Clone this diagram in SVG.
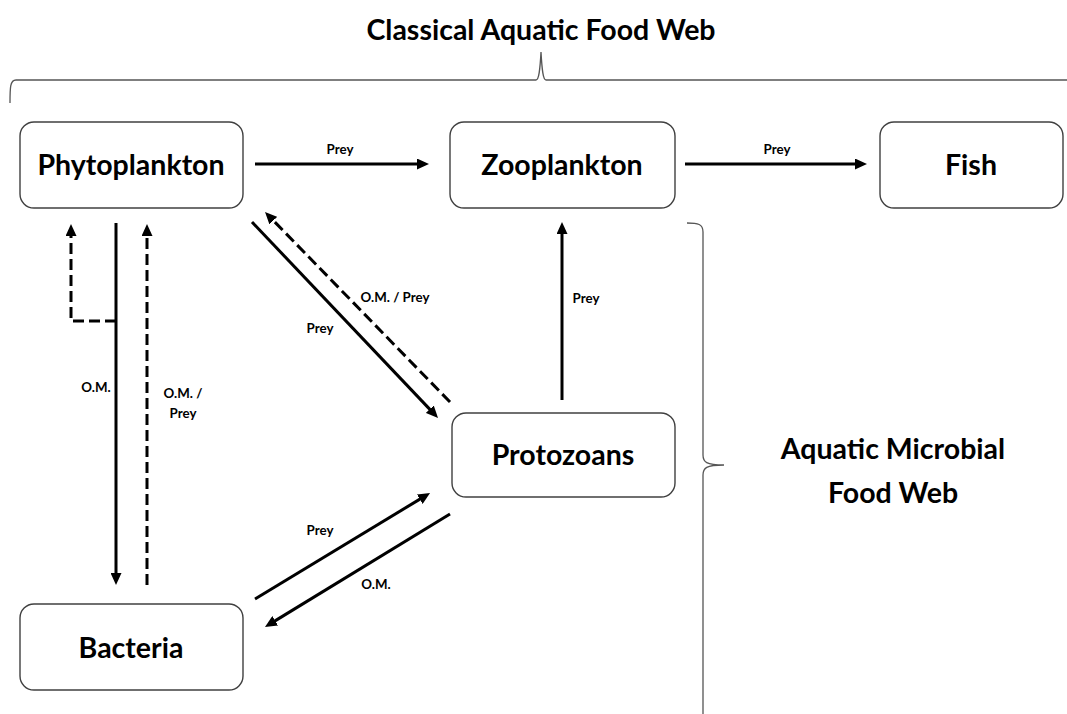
<svg xmlns="http://www.w3.org/2000/svg" width="1067" height="714" viewBox="0 0 1067 714">
<style>
.box{fill:#fff;stroke:#404040;stroke-width:1.4}
.nt{font-family:Lato,"Liberation Sans",sans-serif;font-weight:bold;font-size:28.5px;fill:#000;text-anchor:middle}
.big{font-family:Lato,"Liberation Sans",sans-serif;font-weight:bold;font-size:28.5px;fill:#000;text-anchor:middle}
.lb{font-family:Lato,"Liberation Sans",sans-serif;font-weight:bold;font-size:13.3px;fill:#000;text-anchor:middle}
.s{stroke:#000;stroke-width:3;fill:none;marker-end:url(#ah)}
.d{stroke:#000;stroke-width:3;fill:none;stroke-dasharray:11 5;marker-end:url(#ah)}
.br{stroke:#555;stroke-width:1.3;fill:none}
</style>
<defs>
<marker id="ah" viewBox="0 0 12 11" refX="6" refY="5.5" markerWidth="12" markerHeight="11" markerUnits="userSpaceOnUse" orient="auto">
<path d="M0,0 L12,5.5 L0,11 z" fill="#000"/>
</marker>
</defs>
<rect width="1067" height="714" fill="#fff"/>
<g id="title">
<text class="big" x="541" y="40">Classical Aquatic Food Web</text>
<path class="br" d="M10,103 C10,88 10,80 16,80 L536,80 C539,80 540,70 541,52 C542,70 543,80 546,80 L1067,80"/>
</g>
<g id="microbial">
<path class="br" d="M687,223 C698,223 703,224 703,232 L703,455 C703,462 706,465 724,465 C706,465 703,468 703,475 L703,714"/>
<text class="big" x="893" y="459">Aquatic Microbial</text>
<text class="big" x="893" y="503">Food Web</text>
</g>
<g id="phytoplankton"><rect class="box" x="20" y="122" width="223" height="86" rx="14"/><text class="nt" x="131" y="175">Phytoplankton</text></g>
<g id="zooplankton"><rect class="box" x="450" y="122" width="225" height="86" rx="14"/><text class="nt" x="562" y="175">Zooplankton</text></g>
<g id="fish"><rect class="box" x="880" y="122" width="183" height="86" rx="14"/><text class="nt" x="971" y="175">Fish</text></g>
<g id="protozoans"><rect class="box" x="452" y="413" width="223" height="84" rx="14"/><text class="nt" x="563" y="465">Protozoans</text></g>
<g id="bacteria"><rect class="box" x="20" y="604" width="223" height="86" rx="14"/><text class="nt" x="131" y="658">Bacteria</text></g>
<g id="connectors">
<line class="s" x1="255" y1="164" x2="423" y2="164"/>
<line class="s" x1="685" y1="164" x2="861" y2="164"/>
<line class="s" x1="252" y1="222" x2="433.9" y2="413.6"/>
<line class="d" x1="450" y1="402" x2="269.2" y2="216.3"/>
<line class="s" x1="562" y1="400" x2="562" y2="228"/>
<line class="s" x1="116" y1="223" x2="116" y2="579"/>
<path class="d" d="M116,321 L71,321 L71,230"/>
<line class="d" x1="147" y1="585" x2="147" y2="230"/>
<line class="s" x1="255" y1="599" x2="424.9" y2="496.1"/>
<line class="s" x1="450" y1="514" x2="270.1" y2="623.9"/>
<text class="lb" x="340" y="154">Prey</text>
<text class="lb" x="777" y="154">Prey</text>
<text class="lb" x="320" y="333">Prey</text>
<text class="lb" x="395" y="302">O.M. / Prey</text>
<text class="lb" x="586" y="303">Prey</text>
<text class="lb" x="96" y="392">O.M.</text>
<text class="lb" x="183" y="398">O.M. /</text>
<text class="lb" x="183" y="418">Prey</text>
<text class="lb" x="320" y="535">Prey</text>
<text class="lb" x="376" y="589">O.M.</text>
</g>
</svg>
